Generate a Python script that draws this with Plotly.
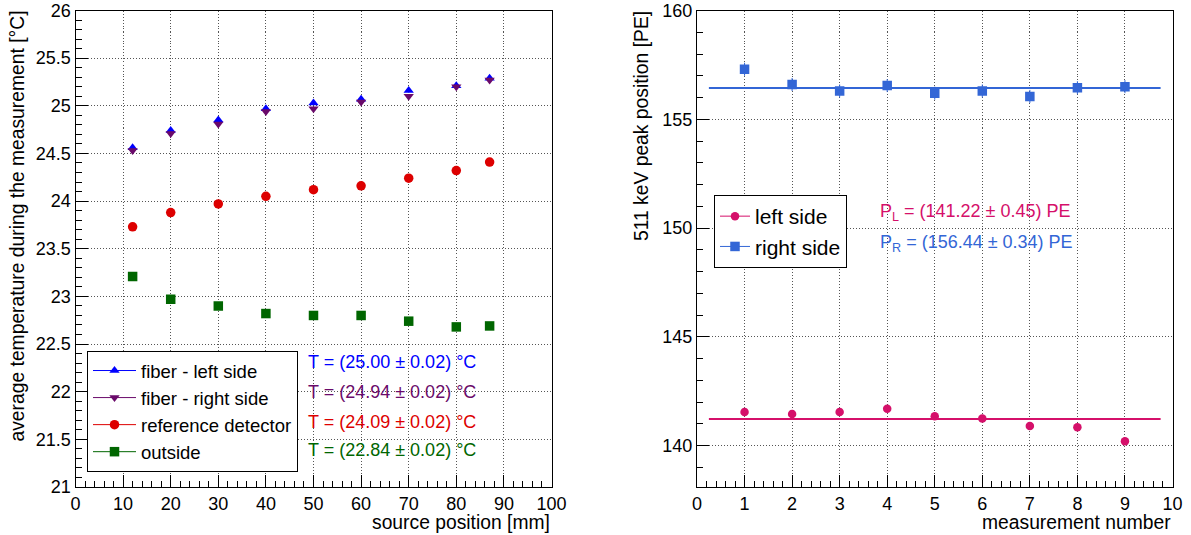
import plotly.graph_objects as go

# ---------------- data: temperature vs. source position ----------------
source_pos = [12, 20, 30, 40, 50, 60, 70, 80, 87]
t_fiber_left = [24.56, 24.74, 24.85, 24.97, 25.03, 25.07, 25.16, 25.21, 25.29]
t_fiber_right = [24.53, 24.71, 24.81, 24.94, 24.97, 25.04, 25.10, 25.20, 25.27]
t_reference = [23.73, 23.88, 23.97, 24.05, 24.12, 24.16, 24.24, 24.32, 24.41]
t_outside = [23.21, 22.97, 22.90, 22.82, 22.80, 22.80, 22.74, 22.68, 22.69]
t_err = [0.02] * 9

t_labels = [
    "T = (25.00 ± 0.02) °C",
    "T = (24.94 ± 0.02) °C",
    "T = (24.09 ± 0.02) °C",
    "T = (22.84 ± 0.02) °C",
]

# ---------------- data: 511 keV peak position per measurement ----------------
meas_num = [1, 2, 3, 4, 5, 6, 7, 8, 9]
peak_left = [141.55, 141.45, 141.55, 141.70, 141.35, 141.25, 140.90, 140.85, 140.20]
peak_right = [157.30, 156.60, 156.30, 156.55, 156.20, 156.30, 156.05, 156.45, 156.50]
peak_left_err = [0.15] * 9
peak_right_err = [0.30] * 9
fit_span = [0.25, 9.75]
fit_left = [141.22, 141.22]
fit_right = [156.44, 156.44]
p_labels = [
    "P<sub>L</sub> = (141.22 ± 0.45) PE",
    "P<sub>R</sub> = (156.44 ± 0.34) PE",
]

FONT = "Liberation Sans, Arial, Helvetica, sans-serif"

C_BLUE = "#0000ff"
C_PURPLE = "#6a0a6a"
C_RED = "#dd0000"
C_GREEN = "#006600"
C_PINK = "#d5106a"
C_AZURE = "#3366d6"

fig = go.Figure()


def add_series(x, y, err, color, symbol, size, name, xa, ya, legend):
    fig.add_trace(go.Scatter(
        x=x, y=y, mode="markers", xaxis=xa, yaxis=ya, showlegend=False,
        marker=dict(color=color, symbol=symbol, size=size, line=dict(width=0)),
        error_y=dict(type="data", array=err, color=color, thickness=1, width=0),
    ))
    # legend entry drawn as line + marker
    fig.add_trace(go.Scatter(
        x=[None], y=[None], mode="lines+markers", xaxis=xa, yaxis=ya,
        name=name, legend=legend,
        marker=dict(color=color, symbol=symbol, size=size),
        line=dict(color=color, width=1),
    ))


add_series(source_pos, t_fiber_left, t_err, C_BLUE, "triangle-up", 9,
           "fiber - left side", "x", "y", "legend")
add_series(source_pos, t_fiber_right, t_err, C_PURPLE, "triangle-down", 9,
           "fiber - right side", "x", "y", "legend")
add_series(source_pos, t_reference, t_err, C_RED, "circle", 9.5,
           "reference detector", "x", "y", "legend")
add_series(source_pos, t_outside, t_err, C_GREEN, "square", 9.5,
           "outside", "x", "y", "legend")

# constant fits
fig.add_trace(go.Scatter(x=fit_span, y=fit_left, mode="lines", xaxis="x2", yaxis="y2",
                         showlegend=False, line=dict(color=C_PINK, width=2)))
fig.add_trace(go.Scatter(x=fit_span, y=fit_right, mode="lines", xaxis="x2", yaxis="y2",
                         showlegend=False, line=dict(color=C_AZURE, width=2)))

add_series(meas_num, peak_left, peak_left_err, C_PINK, "circle", 8.5,
           "left side", "x2", "y2", "legend2")
add_series(meas_num, peak_right, peak_right_err, C_AZURE, "square", 9.5,
           "right side", "x2", "y2", "legend2")

W, H = 1191, 535
Y_TOP, Y_BOT = 10.5, 487
dom_y = [(H - Y_BOT) / H, (H - Y_TOP) / H]
L_X0, L_X1 = 75.5, 551.5
R_X0, R_X1 = 697, 1172.5
dom_x1 = [L_X0 / W, L_X1 / W]
dom_x2 = [R_X0 / W, R_X1 / W]

axis_common = dict(
    showline=True, linecolor="black", linewidth=1, mirror=True,
    ticks="inside", tickcolor="black", ticklen=12, tickwidth=1,
    showgrid=True, gridcolor="#555555", griddash="1px,2px", gridwidth=1,
    zeroline=False,
    tickfont=dict(family=FONT, size=18, color="black"),
)
minor_common = dict(ticks="inside", ticklen=6, tickcolor="black", showgrid=False)

fig.update_layout(
    width=W, height=H,
    margin=dict(l=0, r=0, t=0, b=0, autoexpand=False),
    paper_bgcolor="white", plot_bgcolor="white",
    font=dict(family=FONT, color="black"),
    xaxis=dict(domain=dom_x1, range=[0, 100], dtick=10, tick0=0,
               minor=dict(dtick=2, **minor_common), anchor="y", **axis_common),
    yaxis=dict(domain=dom_y, range=[21, 26], dtick=0.5, tick0=21,
               minor=dict(dtick=0.1, **minor_common), anchor="x", **axis_common),
    xaxis2=dict(domain=dom_x2, range=[0, 10], dtick=1, tick0=0,
                minor=dict(dtick=0.2, **minor_common), anchor="y2", **axis_common),
    yaxis2=dict(domain=dom_y, range=[138.1, 160], dtick=5, tick0=140,
                minor=dict(dtick=1, **minor_common), anchor="x2", **axis_common),
    legend=dict(x=87 / W, y=(H - 411.5) / H, xanchor="left", yanchor="middle",
                bgcolor="white", bordercolor="black", borderwidth=1,
                itemwidth=43, entrywidth=174, entrywidthmode="pixels",
                font=dict(family=FONT, size=18.5, color="black"), tracegroupgap=0),
    legend2=dict(x=714 / W, y=(H - 231.5) / H, xanchor="left", yanchor="middle",
                 bgcolor="white", bordercolor="black", borderwidth=1,
                 entrywidth=133, entrywidthmode="pixels",
                 font=dict(family=FONT, size=21, color="black"), tracegroupgap=0),
)

# fit result labels
t_colors = [C_BLUE, C_PURPLE, C_RED, C_GREEN]
t_ys = [362, 392, 422, 450]
for txt, col, yp in zip(t_labels, t_colors, t_ys):
    fig.add_annotation(text=txt, xref="paper", yref="paper", x=306 / W, y=(H - yp) / H,
                       xanchor="left", yanchor="middle", showarrow=False,
                       font=dict(family=FONT, size=18, color=col))

for txt, col, yp in zip(p_labels, [C_PINK, C_AZURE], [212, 243]):
    fig.add_annotation(text=txt, xref="paper", yref="paper", x=878 / W, y=(H - yp) / H,
                       xanchor="left", yanchor="middle", showarrow=False,
                       font=dict(family=FONT, size=18, color=col))

# axis titles, aligned to the axis ends
TITLE_SIZE = 19.3
fig.add_annotation(text="source position [mm]", xref="paper", yref="paper",
                   x=L_X1 / W, y=(H - 522) / H, xanchor="right", yanchor="middle",
                   showarrow=False, font=dict(family=FONT, size=TITLE_SIZE))
fig.add_annotation(text="measurement number", xref="paper", yref="paper",
                   x=R_X1 / W, y=(H - 522) / H, xanchor="right", yanchor="middle",
                   showarrow=False, font=dict(family=FONT, size=TITLE_SIZE))
fig.add_annotation(text="average temperature during the measurement [°C]", xref="paper", yref="paper",
                   x=17 / W, y=(H - 9) / H, xanchor="center", yanchor="top", textangle=-90,
                   showarrow=False, font=dict(family=FONT, size=TITLE_SIZE))
fig.add_annotation(text="511 keV peak position [PE]", xref="paper", yref="paper",
                   x=642 / W, y=(H - 9) / H, xanchor="center", yanchor="top", textangle=-90,
                   showarrow=False, font=dict(family=FONT, size=TITLE_SIZE))

fig.write_html("out.html")
